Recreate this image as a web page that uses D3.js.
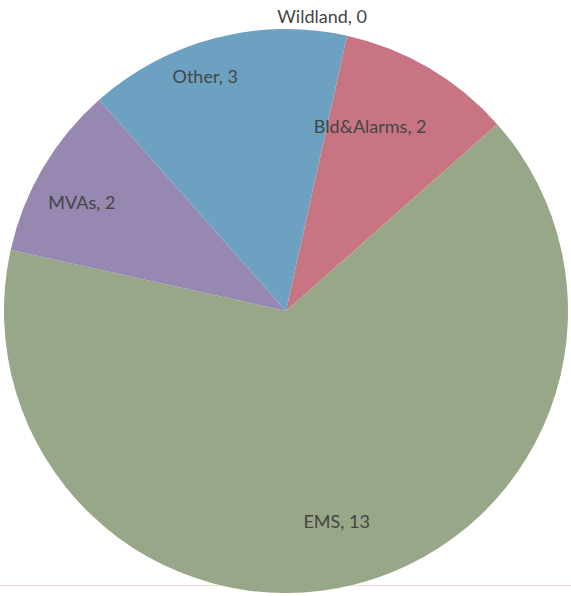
<!DOCTYPE html>
<html>
<head>
<meta charset="utf-8">
<title>Pie</title>
<script src="https://d3js.org/d3.v7.min.js"></script>
<style>
  body { margin: 0; background: #fff; }
  .rotulo { font-family: Lato, 'Noto Sans', sans-serif; font-size: 18px; fill: #454545; text-anchor: middle; }
</style>
</head>
<body>
<svg id="grafico" width="571" height="596"></svg>
<script>
// data
const categorias = ['Wildland', 'Bld&Alarms', 'EMS', 'MVAs', 'Other'];
const valores = [0, 2, 13, 2, 3];
const cores = ['#c47480', '#c87482', '#98a787', '#9688b0', '#6da1c1'];

// label placement per slice: fraction of radius, angle nudge in degrees
const raioRotulo = [1.05, 0.72, 0.77, 0.82, 0.88];
const desvioRotulo = [-5.5, -6, 1, -2.5, -4.5];

const svg = d3.select('#grafico');
const cx = 286, cy = 311, raio = 282;
const inicio = 12.5 * Math.PI / 180;

// faint page edge line
svg.append('line')
  .attr('x1', 0).attr('x2', 571).attr('y1', 585.5).attr('y2', 585.5)
  .attr('stroke', '#f0dcd4').attr('stroke-width', 1);

const g = svg.append('g').attr('transform', `translate(${cx},${cy})`);

const pie = d3.pie().sort(null).value(d => d.v)
  .startAngle(inicio).endAngle(inicio + 2 * Math.PI);
const dados = categorias.map((c, i) => ({ c, v: valores[i], i }));
const fatias = pie(dados);

const arc = d3.arc().innerRadius(0).outerRadius(raio);

g.selectAll('path')
  .data(fatias)
  .enter()
  .append('path')
  .attr('d', arc)
  .attr('fill', d => cores[d.data.i]);

g.selectAll('.rotulo')
  .data(fatias)
  .enter()
  .append('text')
  .classed('rotulo', true)
  .attr('transform', d => {
    const r = raio * raioRotulo[d.data.i];
    const a = (d.startAngle + d.endAngle) / 2 + desvioRotulo[d.data.i] * Math.PI / 180;
    return `translate(${Math.sin(a) * r},${-Math.cos(a) * r})`;
  })
  .attr('dy', '0.35em')
  .text(d => `${d.data.c}, ${d.data.v}`);
</script>
</body>
</html>
